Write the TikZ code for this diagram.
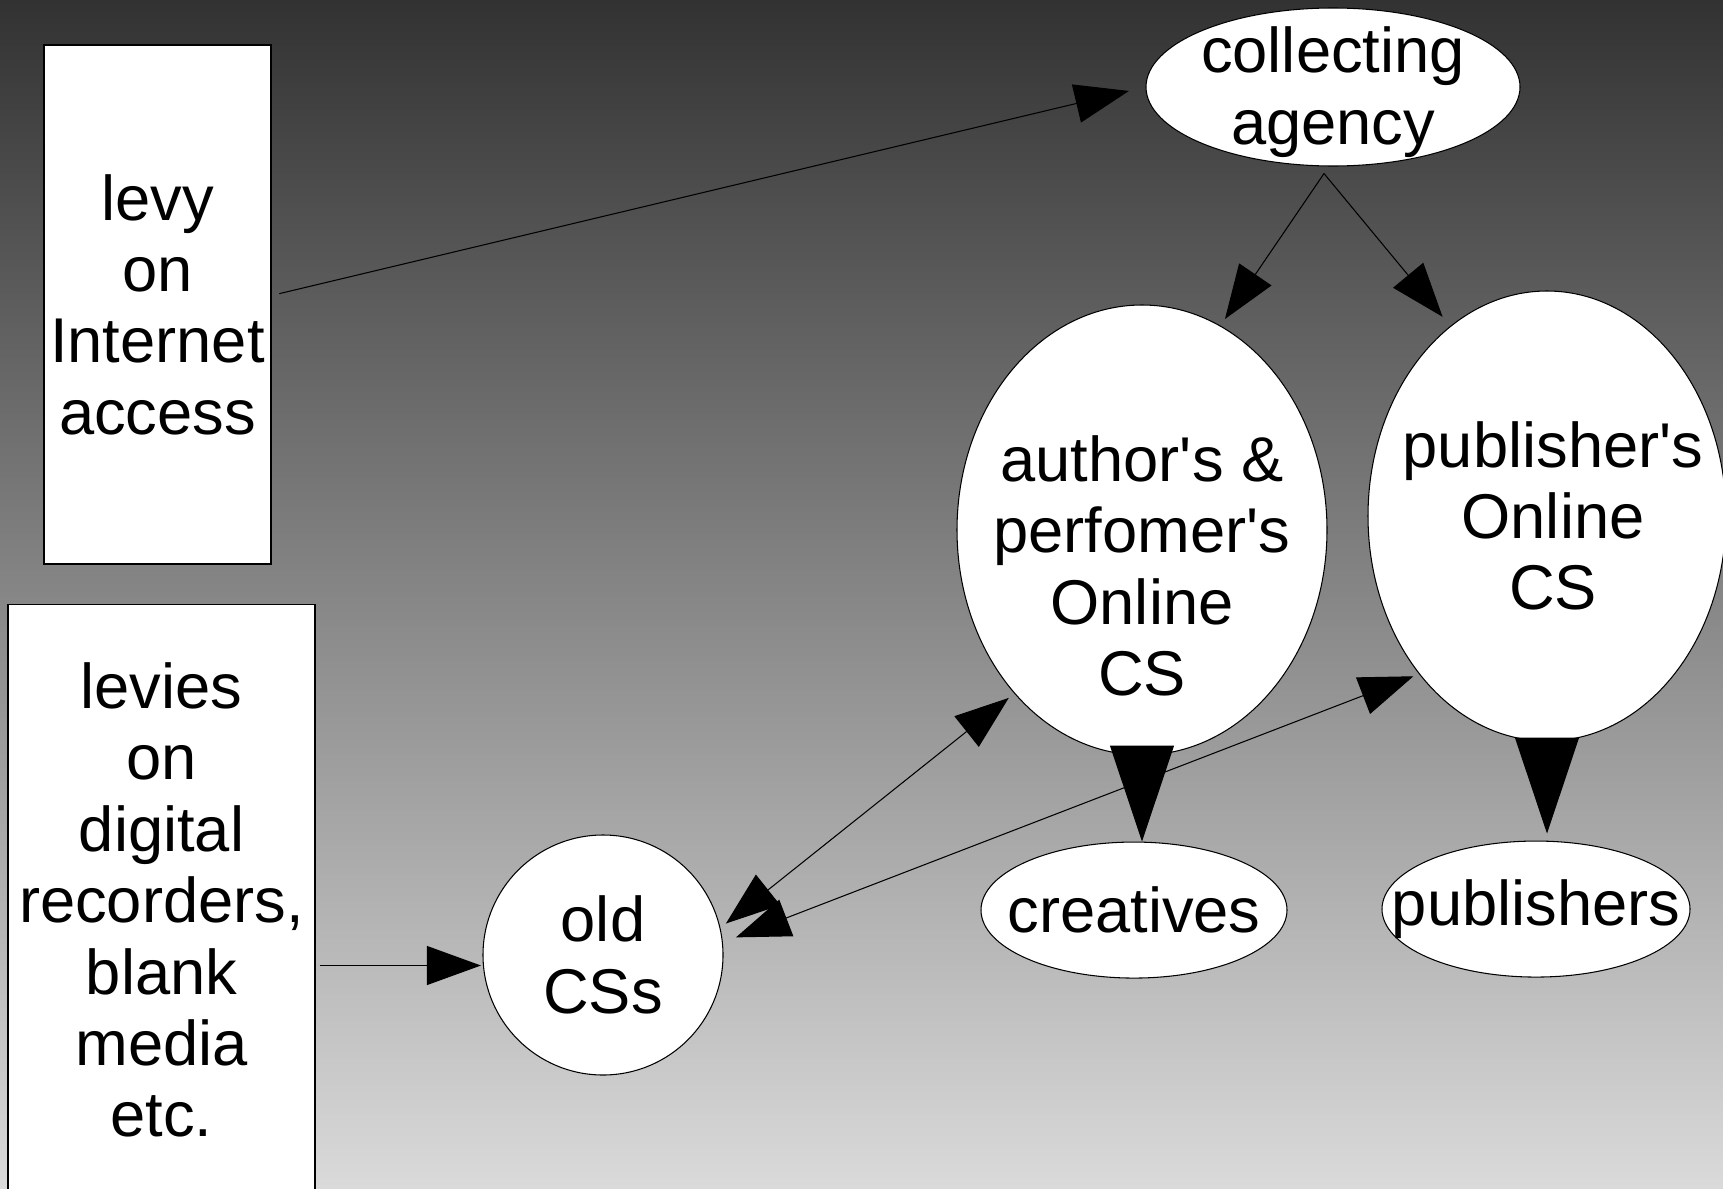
\documentclass[tikz,border=0pt]{standalone}
\usepackage{fontspec}
\setmainfont{Liberation Sans}[Ligatures=TeXOff]
\usetikzlibrary{positioning,arrows.meta,shapes.geometric}

\definecolor{bgtop}{RGB}{50,50,50}
\definecolor{bgbottom}{RGB}{218,218,218}

\begin{document}
\begin{tikzpicture}[
      >={Triangle[length=5.4mm,width=3.9mm]},
      font=\fontsize{18pt}{20.3pt}\selectfont,
      line width=0.3pt
    ]

    \tikzstyle{levybox} = [rectangle, draw=black, fill=white, inner sep=0pt, align=center]
    \tikzstyle{oval} = [ellipse, draw=black, fill=white, inner sep=0pt]
    \tikzstyle{ovaltext} = [align=center, inner sep=0pt]
    \tikzstyle{link} = [black, line width=0.3pt]
    \tikzstyle{bigarrow} = [-{Triangle[length=9.6mm,width=6.4mm]}, black]

    \clip (0,0) rectangle (17.23,11.88);
    \shade [top color=bgtop, bottom color=bgbottom] (0,0) rectangle (17.23,11.88);

    \node [levybox, minimum width=2.27cm, minimum height=5.19cm] (levy) at (1.575,8.835) {levy\\on\\Internet\\access};
    \node [levybox, minimum width=3.07cm, minimum height=5.92cm] (levies) [node distance=0.39cm, below=of levy, xshift=0.4mm] {levies\\on\\digital\\recorders,\\blank\\media\\etc.};

    \node [oval, minimum width=3.74cm, minimum height=1.58cm, label={[ovaltext,yshift=-0.5mm]center:collecting\\agency}] (agency) at (13.33,11.01) {};
    \node [oval, minimum width=3.70cm, minimum height=4.50cm, label={[ovaltext,yshift=-3.6mm]center:author's \&\\perfomer's\\Online\\CS}] (authorcs) at (11.42,6.58) {};
    \node [oval, minimum width=3.58cm, minimum height=4.50cm, label={[ovaltext,xshift=0.6mm]center:publisher's\\Online\\CS}] (publishercs) at (15.47,6.72) {};

    \node [oval, minimum width=3.06cm, minimum height=1.36cm, label={[ovaltext]center:creatives}] (creatives) [node distance=0.86cm, below=of authorcs, xshift=-0.8mm] {};
    \node [oval, minimum width=3.08cm, minimum height=1.36cm, label={[ovaltext]center:publishers}] (publishers) [node distance=0.99cm, below=of publishercs, xshift=-1.1mm] {};

    \node [oval, circle, minimum size=2.4cm, label={[ovaltext]center:old\\CSs}] (oldcs) at (6.03,2.33) {};

    \coordinate (split) at ([xshift=-0.9mm,yshift=-0.7mm]agency.south);

    \draw [->, link, shorten <=0.8mm, shorten >=1.7mm] ([yshift=0.9mm]levy.east) -- (agency.west);
    \draw [->, link, shorten >=0.8mm] (split) -- (authorcs.69);
    \draw [->, link, shorten >=1.2mm] (split) -- (publishercs.117);

    \draw [->, link, shorten <=0.4mm, shorten >=0.2mm] (levies.east |- oldcs.185) -- (oldcs.185);
    \draw [<->, link, shorten <=0.7mm, shorten >=0.7mm] (oldcs.13) -- (authorcs.232);
    \draw [<->, link, shorten <=1.4mm, shorten >=0.6mm] (oldcs.6) -- (publishercs.231);

    \draw [bigarrow] (authorcs.south) -- (authorcs.south |- creatives.north);
    \draw [bigarrow, shorten >=0.7mm] (publishercs.south) -- (publishercs.south |- publishers.north);

\end{tikzpicture}
\end{document}
